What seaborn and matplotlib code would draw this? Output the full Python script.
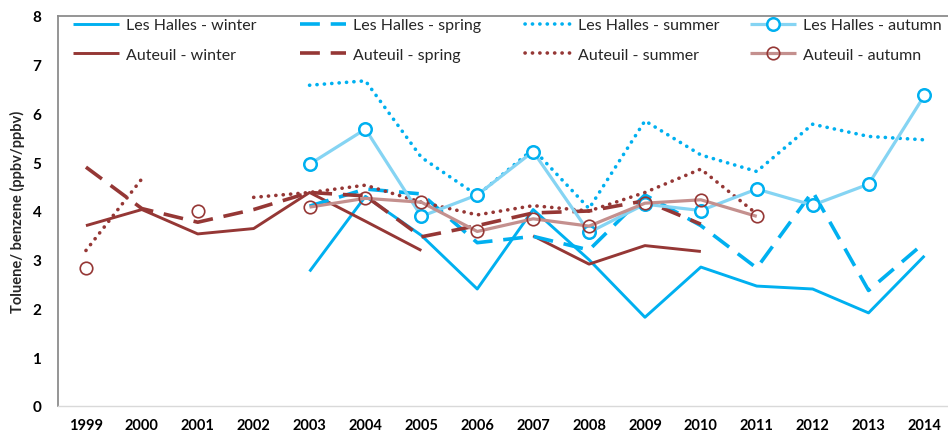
import numpy as np
import pandas as pd
import matplotlib
matplotlib.use("Agg")
import matplotlib.pyplot as plt
from matplotlib.lines import Line2D
import seaborn as sns

nan = np.nan
years = list(range(1999, 2015))

# Les Halles
lh_winter = [nan, nan, nan, nan, 2.76, 4.30, 3.50, 2.40, 4.03, 3.00, 1.82, 2.85, 2.46, 2.40, 1.91, 3.08]
lh_spring = [nan, nan, nan, nan, 4.10, 4.45, 4.35, 3.35, 3.48, 3.20, 4.33, 3.70, 2.83, 4.40, 2.37, 3.35]
lh_summer = [nan, nan, nan, nan, 6.58, 6.67, 5.10, 4.32, 5.27, 4.05, 5.85, 5.15, 4.81, 5.78, 5.53, 5.46]
lh_autumn = [nan, nan, nan, nan, 4.96, 5.68, 3.89, 4.33, 5.22, 3.56, 4.14, 4.01, 4.45, 4.12, 4.55, 6.37]
# Auteuil
au_winter = [3.70, 4.03, 3.53, 3.64, 4.38, 3.79, 3.19, nan, 3.49, 2.91, 3.29, 3.17, nan, nan, nan, nan]
au_spring = [4.90, 4.05, 3.77, 4.03, 4.38, 4.31, 3.47, 3.70, 3.96, 4.00, 4.21, 3.73, nan, nan, nan, nan]
au_summer = [3.19, 4.66, nan, 4.28, 4.38, 4.53, 4.18, 3.92, 4.11, 4.00, 4.38, 4.86, 3.94, nan, nan, nan]
au_autumn = [2.84, nan, 4.01, nan, 4.08, 4.26, 4.18, 3.58, 3.84, 3.69, 4.16, 4.23, 3.89, nan, nan, nan]

BLUE = "#00B0F0"
LBLUE = "#85D4F3"
RED = "#953735"
LRED = "#C4908E"

sns.set_theme(style="white")
plt.rcParams["font.family"] = ["Lato", "DejaVu Sans"]

solid = dict(linestyle="-", solid_capstyle="butt")
dashed = dict(linestyle=(0, (5.5, 3)), dash_capstyle="butt")
dotted = dict(linestyle=(0, (0.05, 2.0)), dash_capstyle="round")

series = [
    ("Les Halles - winter", lh_winter, dict(color=BLUE, lw=2.1, **solid)),
    ("Auteuil - winter", au_winter, dict(color=RED, lw=2.1, **solid)),
    ("Les Halles - spring", lh_spring, dict(color=BLUE, lw=2.6, **dashed)),
    ("Auteuil - spring", au_spring, dict(color=RED, lw=2.6, **dashed)),
    ("Les Halles - summer", lh_summer, dict(color=BLUE, lw=2.6, **dotted)),
    ("Auteuil - summer", au_summer, dict(color=RED, lw=2.6, **dotted)),
    ("Les Halles - autumn", lh_autumn, dict(color=LBLUE, lw=2.3, marker="o",
                                            markersize=9, markerfacecolor="white",
                                            markeredgecolor=BLUE, markeredgewidth=1.8, **solid)),
    ("Auteuil - autumn", au_autumn, dict(color=LRED, lw=2.3, marker="o",
                                         markersize=9, markerfacecolor="none",
                                         markeredgecolor=RED, markeredgewidth=1.2, **solid)),
]

fig = plt.figure(figsize=(9.48, 4.35), dpi=100)
ax = fig.add_axes([58 / 948, 28 / 435, 894.4 / 948, 390 / 435])

for name, vals, kw in series:
    df = pd.DataFrame({"year": years, "value": vals})
    # split into contiguous segments so gaps stay gaps
    df["seg"] = df["value"].isna().cumsum()
    df = df.dropna()
    sns.lineplot(data=df, x="year", y="value", units="seg", estimator=None,
                 ax=ax, legend=False, **kw)

ax.set_xlim(1998.5, 2014.5)
ax.set_ylim(0, 8)
ax.set_xticks(years)
ax.set_xticklabels([str(y) for y in years], fontweight="bold", fontsize=10.5)
ax.set_yticks(range(0, 9))
ax.set_yticklabels([str(v) for v in range(0, 9)], fontweight="bold", fontsize=11)
ax.tick_params(axis="both", length=0, colors="black")
ax.tick_params(axis="x", pad=9)
ax.tick_params(axis="y", pad=12)
ax.set_xlabel("")
ax.set_ylabel("Toluene/ benzene (ppbv/ppbv)", fontweight="bold", fontsize=10.5, labelpad=5)
ax.grid(False)

for side in ["left", "top"]:
    ax.spines[side].set_color("#8C8C8C")
    ax.spines[side].set_linewidth(1.3)
ax.spines["bottom"].set_color("#D9D9D9")
ax.spines["bottom"].set_linewidth(1.0)
ax.spines["right"].set_visible(False)

# legend: four columns, placed like the original
col_x = [73, 300, 525, 750]
for i, cx in enumerate(col_x):
    handles = []
    labels = []
    for name, vals, kw in series[2 * i:2 * i + 2]:
        handles.append(Line2D([], [], **kw))
        labels.append(name)
    fig.legend(handles, labels, loc="upper left",
               bbox_to_anchor=(cx / 948, 1 - 19 / 435),
               frameon=False, fontsize=11.5, handlelength=2.9,
               handletextpad=0.4, borderpad=0, borderaxespad=0,
               labelspacing=0.95)

fig.savefig("out.png", dpi=100)
